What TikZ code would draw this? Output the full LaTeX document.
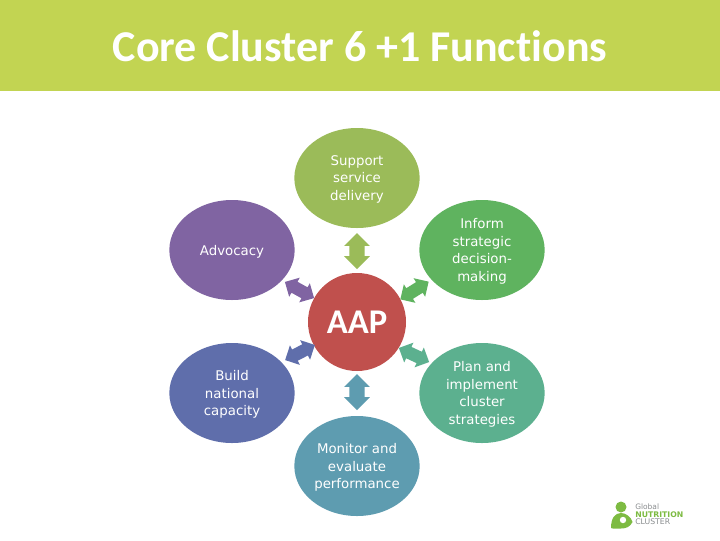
\documentclass[tikz,border=0pt]{standalone}
\usepackage{fontspec}
\setmainfont{DejaVu Sans}
\newfontfamily\titlefont[Ligatures=NoCommon]{Carlito}
\usetikzlibrary{shapes.arrows,shapes.geometric}
\definecolor{hdr}{HTML}{C2D452}
\definecolor{cTop}{HTML}{9BBB59}
\definecolor{cUR}{HTML}{5FB35F}
\definecolor{cLR}{HTML}{5CB08F}
\definecolor{cBot}{HTML}{5E9CB0}
\definecolor{cLL}{HTML}{5F6EAB}
\definecolor{cUL}{HTML}{8064A2}
\definecolor{cAAP}{HTML}{C0504D}
\definecolor{logoG}{HTML}{7DBB42}
\definecolor{logoT}{HTML}{8A8D8F}
\tikzset{
 funclabel/.style={align=center,text=white,inner sep=0pt,yshift=-1pt,font=\fontsize{10}{13.1}\selectfont},
 func/.style={shape=ellipse,minimum width=94pt,minimum height=75pt,inner sep=0pt,label={[funclabel]center:{#1}}},
 link/.style={shape=double arrow,double arrow head extend=4pt,minimum width=19pt,minimum height=27pt,inner xsep=0pt,inner ysep=5.5pt},
 diag/.style={link,minimum height=25pt,minimum width=16pt,double arrow head extend=3.5pt,inner ysep=4.5pt}
}
\begin{document}
\begin{tikzpicture}[x=0.75pt,y=-0.75pt]
\useasboundingbox (0,0) rectangle (720,540);
\fill[white] (0,0) rectangle (720,540);
\fill[hdr] (0,0) rectangle (720,91);
\node[text=white,font=\titlefont\bfseries\fontsize{33}{38}\selectfont] (title) at (360,46) {Core Cluster 6 +1 Functions};

\node[func={Support\\service\\delivery},fill=cTop] (top) at (357,178) {};
\node[func={Inform\\strategic\\decision-\\making},fill=cUR] (ur) at (482,250) {};
\node[func={Plan and\\implement\\cluster\\strategies},fill=cLR] (lr) at (482,393) {};
\node[func={Monitor and\\evaluate\\performance},fill=cBot] (bot) at (357,466) {};
\node[func={Build\\national\\capacity},fill=cLL] (ll) at (232,393) {};
\node[func={Advocacy},fill=cUL] (ul) at (232,250) {};
\node[shape=circle,fill=cAAP,minimum size=73.5pt,inner sep=0pt,text=white,font=\titlefont\bfseries\fontsize{26}{30}\selectfont] (aap) at (357,322) {AAP};

\node[link,fill=cTop,rotate=90] (a1) at (357,251) {};
\node[link,fill=cBot,rotate=90] (a2) at (357,392) {};
\node[diag,fill=cUL,rotate=-29] (a3) at (299.5,290) {};
\node[diag,fill=cUR,rotate=32] (a4) at (414.5,290.5) {};
\node[diag,fill=cLL,rotate=27] (a5) at (300,352.5) {};
\node[diag,fill=cLR,rotate=-25] (a6) at (414,355) {};

% logo
\fill[logoG] (621,507) circle (5.5);
\fill[logoG] (611,528) .. controls (611,518) and (615,513) .. (621,513) .. controls (626,513) and (631,517) .. (632.5,522) .. controls (630,527) and (626,528.5) .. (621,528.5) -- (613,528.5) -- cycle;
\fill[white] (623,520) circle (3.2);
\node[anchor=west,inner sep=0pt,text=logoT,font=\fontsize{5.6}{6}\selectfont] (lg1) at (635,506.5) {Global};
\node[anchor=west,inner sep=0pt,text=logoG,font=\bfseries\fontsize{5.8}{7}\selectfont] (lg2) at (635,514.5) {NUTRITION};
\node[anchor=west,inner sep=0pt,text=logoT,font=\fontsize{5.8}{7}\selectfont] (lg3) at (635,522) {CLUSTER};
\end{tikzpicture}
\end{document}
